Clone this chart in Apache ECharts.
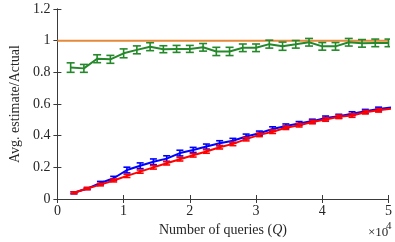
<!DOCTYPE html>
<html>
<head>
<meta charset="utf-8">
<script src="https://cdn.jsdelivr.net/npm/echarts@6/dist/echarts.min.js"></script>
<style>html,body{margin:0;padding:0;background:#fff;}#c{width:395px;height:242px;}</style>
</head>
<body>
<div id="c"></div>
<script>
// ---- data ----
const xTicks = [0, 10000, 20000, 30000, 40000, 50000];
const yTicks = [0, 0.2, 0.4, 0.6, 0.8, 1, 1.2];
const refX = [0, 50000];
const refVals = [1, 1];
const xGreen = [2000,4000,6000,8000,10000,12000,14000,16000,18000,20000,22000,24000,26000,28000,30000,32000,34000,36000,38000,40000,42000,44000,46000,48000,50000];
const greenVals = [0.83,0.825,0.886,0.882,0.92,0.942,0.962,0.946,0.948,0.948,0.958,0.932,0.932,0.955,0.955,0.978,0.965,0.977,0.99,0.964,0.964,0.99,0.983,0.986,0.986];
const greenErr = [0.03,0.025,0.025,0.025,0.028,0.025,0.025,0.022,0.022,0.022,0.024,0.026,0.026,0.024,0.024,0.025,0.026,0.024,0.024,0.024,0.024,0.024,0.024,0.024,0.024];
const xRB = [2500,4500,6500,8500,10500,12500,14500,16500,18500,20500,22500,24500,26500,28500,30500,32500,34500,36500,38500,40500,42500,44500,46500,48500,50500];
const blueVals = [0.039,0.066,0.101,0.131,0.183,0.21,0.235,0.255,0.29,0.31,0.331,0.352,0.368,0.395,0.415,0.442,0.461,0.477,0.492,0.512,0.523,0.539,0.554,0.568,0.578];
const blueErr = [0.006,0.006,0.01,0.012,0.018,0.018,0.018,0.018,0.018,0.016,0.016,0.016,0.015,0.015,0.014,0.014,0.013,0.012,0.012,0.012,0.012,0.012,0.012,0.012,0.012];
const redVals = [0.039,0.066,0.091,0.117,0.146,0.173,0.2,0.226,0.251,0.276,0.3,0.327,0.348,0.378,0.405,0.425,0.45,0.466,0.486,0.502,0.519,0.527,0.548,0.56,0.57];
const redErr = [0.006,0.007,0.008,0.009,0.01,0.01,0.011,0.011,0.011,0.011,0.011,0.011,0.011,0.011,0.011,0.011,0.011,0.011,0.011,0.011,0.011,0.011,0.011,0.011,0.011];

const GREEN = '#25882b', BLUE = '#0000ff', RED = '#ff0000', ORANGE = '#e5893a';
const FONT = 'Liberation Serif';
const AX = '#3a3a3a';
const TXT = '#262626';
const XMAX = 50000;

function pairs(xs, ys) { return xs.map((x, i) => [x, ys[i]]); }
function triples(xs, ys, es) { return xs.map((x, i) => [x, ys[i], es[i]]).filter(d => d[0] <= XMAX); }
function errRender(color, capHalf, lw) {
  return function (params, api) {
    const x = api.value(0), y = api.value(1), e = api.value(2);
    const t = api.coord([x, y + e]), b = api.coord([x, y - e]);
    const style = { stroke: color, lineWidth: lw };
    return { type: 'group', children: [
      { type: 'line', shape: { x1: t[0], y1: t[1], x2: b[0], y2: b[1] }, style },
      { type: 'line', shape: { x1: t[0] - capHalf, y1: t[1], x2: t[0] + capHalf, y2: t[1] }, style },
      { type: 'line', shape: { x1: b[0] - capHalf, y1: b[1], x2: b[0] + capHalf, y2: b[1] }, style }
    ] };
  };
}
function lineSeries(data, color, z) {
  return { type: 'line', data, symbol: 'none', clip: true, z,
    lineStyle: { color, width: 2 }, itemStyle: { color }, silent: true };
}
function errSeries(data, color, z, capHalf) {
  return { type: 'custom', data, renderItem: errRender(color, capHalf, 1.6), clip: true, z,
    encode: { x: 0, y: 1 }, silent: true };
}
const tickFmtX = v => String(v / 10000);
const tickFmtY = v => String(+v.toFixed(1));
const baseAxis = {
  axisLine: { show: true, lineStyle: { color: AX, width: 1 } },
  axisTick: { show: true, inside: true, length: 4, lineStyle: { color: AX } },
  splitLine: { show: false }
};

const chart = echarts.init(document.getElementById('c'), null, { renderer: 'canvas' });
chart.setOption({
  animation: false,
  backgroundColor: '#fff',
  grid: { left: 44, right: 5, top: 9, bottom: 39, containLabel: false },
  xAxis: [
    Object.assign({}, baseAxis, { type: 'value', position: 'bottom', min: xTicks[0], max: xTicks[xTicks.length - 1], interval: 10000,
      axisLabel: { formatter: tickFmtX, fontFamily: FONT, fontSize: 14, color: TXT, margin: 5 },
      name: 'Number of queries ({q|Q})', nameLocation: 'middle', nameGap: 24,
      nameTextStyle: { fontFamily: FONT, fontSize: 14, color: TXT,
        rich: { q: { fontFamily: FONT, fontSize: 14, fontStyle: 'italic', color: TXT } } } }),
    Object.assign({}, baseAxis, { type: 'value', position: 'top', min: 0, max: 50000, interval: 10000, axisLabel: { show: false } })
  ],
  yAxis: [
    Object.assign({}, baseAxis, { type: 'value', position: 'left', min: yTicks[0], max: yTicks[yTicks.length - 1], interval: 0.2,
      axisLabel: { formatter: tickFmtY, fontFamily: FONT, fontSize: 14, color: TXT, margin: 7 },
      name: 'Avg. estimate/Actual', nameLocation: 'middle', nameGap: 27,
      nameTextStyle: { fontFamily: FONT, fontSize: 14, color: TXT } }),
    Object.assign({}, baseAxis, { type: 'value', position: 'right', min: 0, max: 1.2, interval: 0.2, axisLabel: { show: false } })
  ],
  series: [
    lineSeries(pairs(refX, refVals), ORANGE, 2),
    lineSeries(pairs(xGreen, greenVals), GREEN, 3),
    errSeries(triples(xGreen, greenVals, greenErr), GREEN, 3, 4),
    lineSeries(pairs(xRB, blueVals), BLUE, 4),
    errSeries(triples(xRB, blueVals, blueErr), BLUE, 4, 3.5),
    lineSeries(pairs(xRB, redVals), RED, 5),
    errSeries(triples(xRB, redVals, redErr), RED, 5, 3.5)
  ],
  graphic: [
    { type: 'text', left: 368, top: 226, style: { text: '×10', fontFamily: FONT, fontSize: 13, fill: TXT } },
    { type: 'text', left: 386, top: 221, style: { text: '4', fontFamily: FONT, fontSize: 11, fill: TXT } }
  ]
});
</script>
</body>
</html>
